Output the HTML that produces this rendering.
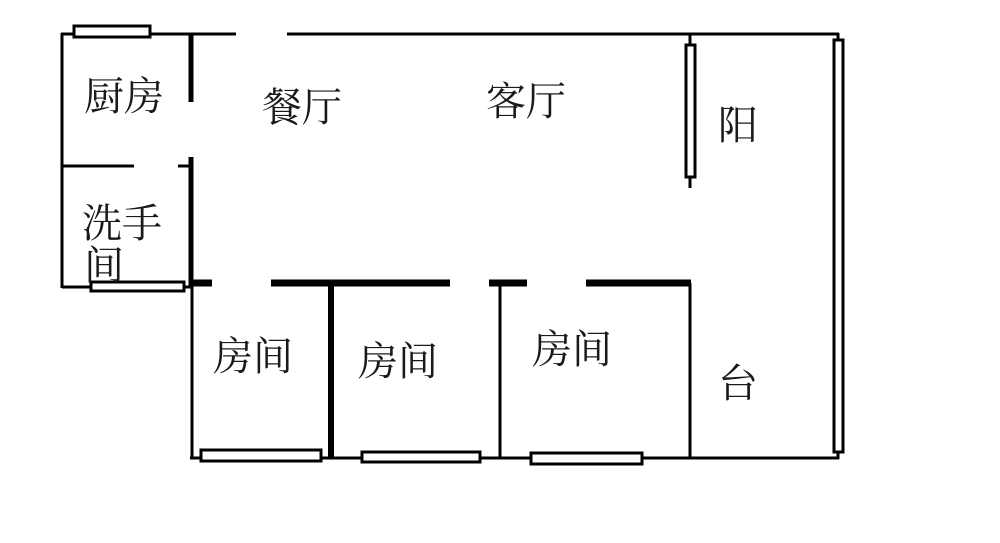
<!DOCTYPE html>
<html><head><meta charset="utf-8"><style>
html,body{margin:0;padding:0;background:#fff;}
svg{display:block;}
text{font-family:"Liberation Serif","Noto Serif CJK SC",serif;font-size:40px;fill:#1a1a1a;}
</style></head><body>
<svg width="1000" height="543" viewBox="0 0 1000 543" xmlns="http://www.w3.org/2000/svg">
<g stroke="#000" fill="none" stroke-width="3">
<line x1="61" y1="34" x2="236" y2="34"/>
<line x1="287" y1="34" x2="839" y2="34"/>
<line x1="62" y1="33" x2="62" y2="288"/>
<line x1="62" y1="166" x2="134" y2="166"/>
<line x1="178" y1="166" x2="191" y2="166"/>
<line x1="191" y1="34" x2="191" y2="102" stroke-width="5"/>
<line x1="191" y1="157" x2="191" y2="288" stroke-width="5"/>
<line x1="62" y1="287" x2="191" y2="287"/>
<g stroke-width="7">
<line x1="190" y1="283" x2="212" y2="283"/>
<line x1="271" y1="283" x2="450" y2="283"/>
<line x1="489" y1="283" x2="527" y2="283"/>
<line x1="586" y1="283" x2="691" y2="283"/>
</g>
<line x1="192" y1="283" x2="192" y2="459"/>
<line x1="331" y1="283" x2="331" y2="459" stroke-width="6"/>
<line x1="500" y1="283" x2="500" y2="459"/>
<line x1="690" y1="283" x2="690" y2="459"/>
<line x1="190" y1="458" x2="839" y2="458"/>
<line x1="690" y1="34" x2="690" y2="188"/>
<line x1="838" y1="33" x2="838" y2="459"/>
</g>
<g stroke="#000" fill="#fff" stroke-width="3">
<rect x="74" y="26" width="76" height="11"/>
<rect x="91" y="282" width="93" height="9"/>
<rect x="201" y="450" width="120" height="11"/>
<rect x="362" y="452" width="118" height="10"/>
<rect x="531" y="453" width="111" height="11"/>
<rect x="686" y="45" width="9" height="132"/>
<rect x="834" y="40" width="9" height="412"/>
</g>
<text x="84" y="110">厨房</text>
<text x="262" y="121">餐厅</text>
<text x="486" y="115">客厅</text>
<text x="718" y="139">阳</text>
<text x="82" y="237">洗手</text>
<text x="84" y="279">间</text>
<text x="213" y="370">房间</text>
<text x="358" y="375">房间</text>
<text x="532" y="363">房间</text>
<text x="718" y="397">台</text>
</svg>
</body></html>
